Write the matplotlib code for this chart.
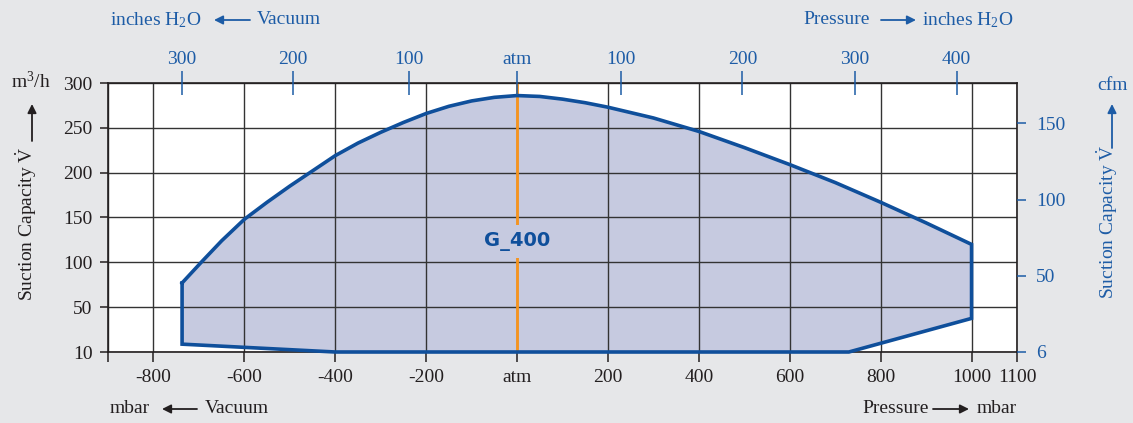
import numpy as np
import matplotlib
matplotlib.use("Agg")
import matplotlib.pyplot as plt

plt.rcParams['font.family'] = ['Liberation Serif', 'DejaVu Serif']
plt.rcParams['mathtext.fontset'] = 'custom'
plt.rcParams['mathtext.rm'] = 'Liberation Serif'
plt.rcParams['mathtext.it'] = 'Liberation Serif:italic'

# envelope of the G_400 (pressure in mbar, suction capacity in m3/h)
top_x = [-737, -695, -650, -600, -550, -500, -450, -400, -350, -300, -250, -200,
         -150, -100, -50, 0, 50, 100, 150, 200, 300, 400, 500, 600, 700, 800, 900, 1000]
top_y = [77, 100, 124, 148, 167, 185, 202, 219, 233, 245, 256, 266,
         274, 280, 284, 286, 285, 282, 278, 273, 261, 246, 228, 209, 189, 167, 144, 120]
bottom_x = [1000, 730, -400, -737]
bottom_y = [40, 10, 10, 17]

x_ticks = [-900, -800, -600, -400, -200, 0, 200, 400, 600, 800, 1000, 1100]
x_labels = ['', '-800', '-600', '-400', '-200', 'atm', '200', '400', '600', '800', '1000', '1100']
y_ticks = [10, 50, 100, 150, 200, 250, 300]

# inches H2O scale on top (positions in mbar)
inh2o_pos = [-737, -493, -238, 0, 228, 496, 743, 967]
inh2o_labels = ['300', '200', '100', 'atm', '100', '200', '300', '400']

cfm_ticks = [6, 50, 100, 150]
cfm_to_m3h = 1.699

blue = '#1d5ca6'
line_blue = '#0f4f9b'
fill_col = '#c6cae0'
orange = '#f7941d'
dark = '#231f20'
bg = '#e6e7e9'
grid_col = '#333333'


# the 10..50 band is drawn as wide as the 50-steps above it
def fwd(y):
    y = np.asarray(y, dtype=float)
    return np.where(y < 50, 50 - (50 - y) * 1.25, y)


def inv(v):
    v = np.asarray(v, dtype=float)
    return np.where(v < 50, 50 - (50 - v) * 0.8, v)


W, H = 1133, 423
fig = plt.figure(figsize=(W / 100, H / 100), dpi=100, facecolor=bg)
ax = fig.add_axes([108 / W, 71 / H, 909 / W, 269 / H])
ax.set_facecolor('white')
ax.set_yscale('function', functions=(fwd, inv))
ax.set_xlim(-900, 1100)
ax.set_ylim(10, 300)

ax.set_xticks(x_ticks, x_labels)
ax.set_yticks(y_ticks, [str(v) for v in y_ticks])
ax.minorticks_off()
ax.grid(True, color=grid_col, lw=1.0)
ax.tick_params(axis='x', direction='out', length=7, width=1.1, pad=5,
               labelsize=14, colors=dark)
ax.tick_params(axis='y', direction='out', length=6, width=1.1, pad=5,
               labelsize=14, colors=dark)
for s in ax.spines.values():
    s.set_color(dark)
    s.set_linewidth(1.2)

env_x = top_x + bottom_x
env_y = top_y + bottom_y
ax.fill(env_x, env_y, facecolor=fill_col, edgecolor='none', zorder=1)
ax.plot(env_x + [env_x[0]], env_y + [env_y[0]], color=line_blue, lw=2.6,
        solid_joinstyle='miter', clip_on=False, zorder=3)

ax.axvline(0, color=orange, lw=2.0, zorder=2.5)
ax.text(0, 123, 'G_400', ha='center', va='center', fontsize=14,
        fontweight='bold', family='DejaVu Sans', color=line_blue, zorder=4,
        bbox=dict(boxstyle='square,pad=0.35', facecolor=fill_col, edgecolor='none'))

# top axis: inches of water
axt = ax.twiny()
axt.set_xlim(ax.get_xlim())
axt.set_xticks(inh2o_pos, inh2o_labels)
axt.tick_params(axis='x', direction='inout', length=17, width=1.1, pad=2,
                labelsize=14, colors=blue)
for s in axt.spines.values():
    s.set_visible(False)

# right axis: cfm
axr = ax.twinx()
axr.set_yscale('function', functions=(fwd, inv))
axr.set_ylim(10, 300)
axr.set_yticks([c * cfm_to_m3h for c in cfm_ticks], [str(c) for c in cfm_ticks])
axr.minorticks_off()
axr.tick_params(axis='y', direction='out', length=6.5, width=1.1, pad=7,
                labelsize=14, colors=blue)
for s in axr.spines.values():
    s.set_visible(False)


def fp(x, y):
    return (x / W, 1 - y / H)


def arrow(x0, y0, x1, y1, color):
    ax.annotate('', xy=fp(x1, y1), xytext=fp(x0, y0), xycoords='figure fraction',
                textcoords='figure fraction', annotation_clip=False,
                arrowprops=dict(arrowstyle='-|>', color=color, lw=1.3,
                                mutation_scale=13, shrinkA=0, shrinkB=0))


# top titles
fig.text(*fp(110, 20), 'inches H$_2$O', color=blue, fontsize=14, ha='left', va='center')
arrow(250, 20, 214, 20, blue)
fig.text(*fp(257, 20), 'Vacuum', color=blue, fontsize=14, ha='left', va='center')
fig.text(*fp(803, 20), 'Pressure', color=blue, fontsize=14, ha='left', va='center')
arrow(881, 20, 916, 20, blue)
fig.text(*fp(922, 20), 'inches H$_2$O', color=blue, fontsize=14, ha='left', va='center')

# bottom titles
fig.text(*fp(110, 408), 'mbar', color=dark, fontsize=14, ha='left', va='center')
arrow(197, 409, 162, 409, dark)
fig.text(*fp(205, 408), 'Vacuum', color=dark, fontsize=14, ha='left', va='center')
fig.text(*fp(862, 408), 'Pressure', color=dark, fontsize=14, ha='left', va='center')
arrow(933, 409, 969, 409, dark)
fig.text(*fp(977, 408), 'mbar', color=dark, fontsize=14, ha='left', va='center')

# left y title
fig.text(*fp(31, 81), 'm$^3$/h', color=dark, fontsize=14, ha='center', va='center')
arrow(32, 141, 32, 104, dark)
fig.text(*fp(26, 224), r'Suction Capacity $\dot{\mathrm{V}}$', color=dark, fontsize=14,
         rotation=90, ha='center', va='center')

# right y title
fig.text(*fp(1113, 85), 'cfm', color=blue, fontsize=14, ha='center', va='center')
arrow(1112, 148, 1112, 104, blue)
fig.text(*fp(1107, 222), r'Suction Capacity $\dot{\mathrm{V}}$', color=blue, fontsize=14,
         rotation=90, ha='center', va='center')

fig.savefig('out.png', dpi=100, facecolor=bg)
